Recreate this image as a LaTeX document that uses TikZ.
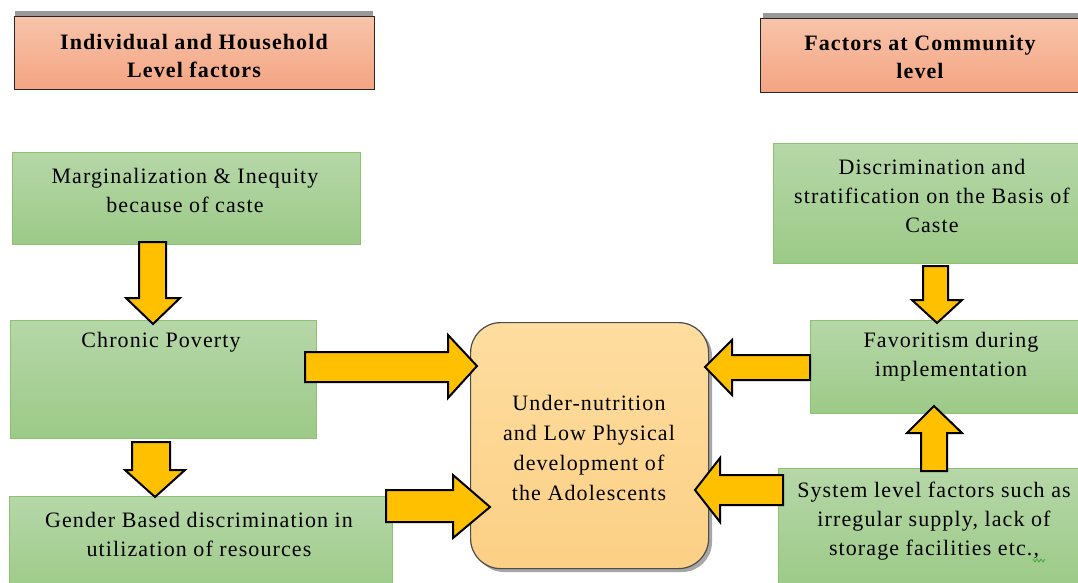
\documentclass[tikz,border=0pt]{standalone}
\usepackage{fontspec}
\setmainfont{Liberation Serif}[LetterSpace=5]
\definecolor{gtop}{HTML}{B6D7A8}
\definecolor{gbot}{HTML}{9CCA87}
\definecolor{gborder}{HTML}{8DC270}
\definecolor{htop}{HTML}{F8C4AA}
\definecolor{hbot}{HTML}{F4A482}
\definecolor{ctop}{HTML}{FEDDA0}
\definecolor{cbot}{HTML}{FCD085}
\definecolor{arrowc}{HTML}{FFC000}
\definecolor{squig}{HTML}{3FAF3F}
\begin{document}
\begin{tikzpicture}[x=1pt,y=-1pt,
  gbox/.style={draw=gborder, line width=1pt, top color=gtop, bottom color=gbot, anchor=north west, inner sep=0pt},
  hbox/.style={draw=black!85, line width=1.2pt, top color=htop, bottom color=hbot, anchor=north west, inner sep=0pt},
  barrow/.style={fill=arrowc, draw=black, line width=2pt, line join=miter},
  txt/.style={font=\fontsize{22}{29}\selectfont, align=center, inner sep=0pt},
  htxt/.style={font=\fontsize{22}{28}\selectfont\bfseries, align=center, inner sep=0pt}]
\useasboundingbox (0,0) rectangle (1078,582);
\fill[white] (0,0) rectangle (1078,582);
\clip (0,0) rectangle (1078,582);

% header shadows
\fill[black!40] (15,11) rectangle (373,17);
\fill[black!40] (763,13) rectangle (1090,19);
% headers
\node[hbox, minimum width=360pt, minimum height=73pt] (hl) at (14,16) {};
\node[hbox, minimum width=330pt, minimum height=74pt] (hr) at (760,18) {};
\node[htxt] (hlt) at (194,56) {Individual and Household\\Level factors};
\node[htxt] (hrt) at (920,57) {Factors at Community\\level};

% left boxes
\node[gbox, minimum width=348pt, minimum height=92pt] (marg) at (12,152) {};
\node[gbox, minimum width=306pt, minimum height=118pt] (chron) at (10,320) {};
\node[gbox, minimum width=383pt, minimum height=100pt] (gend) at (9,496) {};
\node[txt] (margt) at (185,190) {Marginalization \& Inequity\\because of caste};
\node[txt] (chront) at (161,342) {Chronic Poverty};
\node[txt] (gendt) at (199,534) {Gender Based discrimination in\\utilization of resources};

% right boxes
\node[gbox, minimum width=320pt, minimum height=120pt] (disc) at (773,143) {};
\node[gbox, minimum width=280pt, minimum height=93pt] (fav) at (810,320) {};
\node[gbox, minimum width=310pt, minimum height=120pt] (sys) at (778,468) {};
\node[txt] (disct) at (932,196) {Discrimination and\\stratification on the Basis of\\Caste};
\node[txt] (favt) at (951,357) {Favoritism during\\implementation};
\node[txt] (syst) at (934,521) {System level factors such as\\irregular supply, lack of\\storage facilities etc.,};
\draw[squig, line width=0.8pt] (1033,559) -- (1035,562) -- (1037,559) -- (1039,562) -- (1041,559) -- (1043,562) -- (1045,559);

% center box
\fill[black!35, rounded corners=30pt] (474,326) rectangle (712,572);
\node[draw=black!70, line width=1.2pt, rounded corners=30pt, top color=ctop, bottom color=cbot,
      anchor=north west, minimum width=238pt, minimum height=246pt, inner sep=0pt] (cen) at (470,322) {};
\node[txt, font=\fontsize{22}{30.3}\selectfont] (cent) at (589,448) {Under-nutrition\\and Low Physical\\development of\\the Adolescents};

% block arrows
% marg -> chronic (down)
\draw[barrow] (139,242) -- (166,242) -- (166,298) -- (180,298) -- (153,324) -- (126,298) -- (139,298) -- cycle;
% chronic -> gender (down)
\draw[barrow] (132,442) -- (170,442) -- (170,470) -- (185,470) -- (155,497) -- (125,470) -- (132,470) -- cycle;
% chronic -> center (right)
\draw[barrow] (305,352) -- (448,352) -- (448,335) -- (477,366) -- (448,398) -- (448,382) -- (305,382) -- cycle;
% gender -> center (right)
\draw[barrow] (386,490) -- (453,490) -- (453,475) -- (490,507) -- (453,538) -- (453,522) -- (386,522) -- cycle;
% favoritism -> center (left)
\draw[barrow] (810,355) -- (732,355) -- (732,340) -- (705,367) -- (732,395) -- (732,380) -- (810,380) -- cycle;
% system -> center (left)
\draw[barrow] (783,475) -- (720,475) -- (720,458) -- (695,490) -- (720,522) -- (720,505) -- (783,505) -- cycle;
% discrimination -> favoritism (down)
\draw[barrow] (923,266) -- (948,266) -- (948,300) -- (962,300) -- (937,323) -- (912,300) -- (923,300) -- cycle;
% system -> favoritism (up)
\draw[barrow] (921,471) -- (947,471) -- (947,433) -- (962,433) -- (934,406) -- (907,433) -- (921,433) -- cycle;
\end{tikzpicture}
\end{document}
